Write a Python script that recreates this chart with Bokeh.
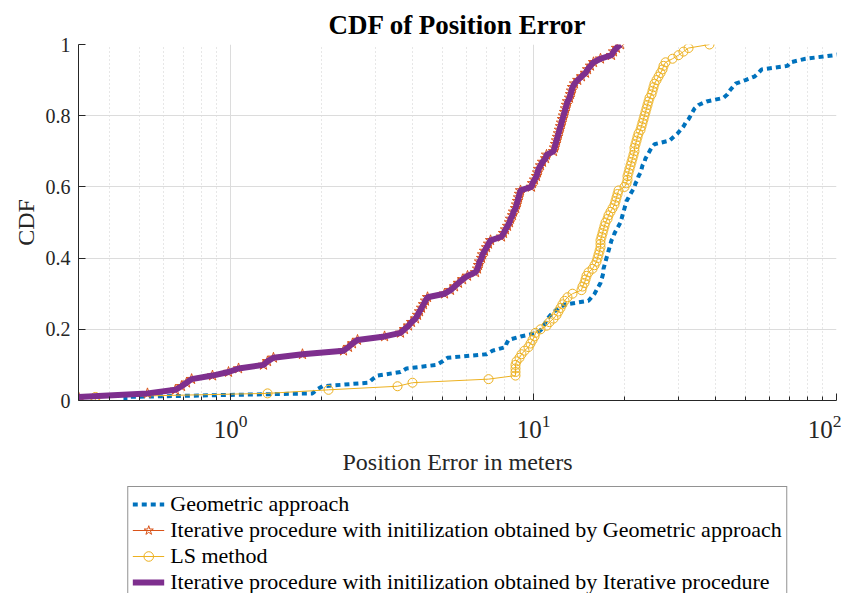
import numpy as np
from bokeh.plotting import figure
from bokeh.layouts import column
from bokeh.models import Range1d, FixedTicker, Legend, LegendItem, LogTickFormatter
from bokeh.embed import file_html
from bokeh.resources import INLINE

# ---- data (sorted position errors in meters, one per CDF step of 0.01) ----
geometric = [0.450, 1.865, 1.922, 2.012, 2.854, 2.942, 3.056, 3.640, 3.809, 4.786,
             5.009, 5.203, 6.999, 7.325, 8.084, 8.146, 8.271, 9.060, 10.31, 10.63,
             10.79, 10.96, 11.12, 11.38, 11.73, 12.09, 12.75, 15.19, 15.54, 15.90,
             16.14, 16.39, 16.64, 16.77, 16.90, 17.02, 17.02, 17.15, 17.28, 17.41,
             17.55, 17.68, 17.82, 17.95, 18.09, 18.37, 18.51, 18.79, 19.08, 19.37,
             19.52, 19.66, 19.82, 19.97, 20.12, 20.28, 20.59, 20.90, 21.22, 21.54,
             21.71, 22.04, 22.21, 22.55, 22.72, 22.89, 23.24, 23.42, 23.78, 24.15,
             24.52, 25.08, 28.11, 28.97, 29.87, 30.56, 31.26, 31.75, 32.48, 32.98,
             33.48, 34.00, 35.05, 37.24, 42.38, 43.69, 44.37, 45.38, 46.42, 50.08,
             53.63, 55.28, 56.56, 68.91, 70.50, 79.02, 98.49, 111.2, 129.5, 162.6]

iterative = [0.315, 0.532, 0.658, 0.689, 0.716, 0.744, 0.872, 0.985, 1.063, 1.285,
             1.325, 1.386, 1.728, 2.360, 2.452, 2.527, 2.625, 3.224, 3.640, 3.752,
             3.868, 3.957, 4.080, 4.143, 4.206, 4.271, 4.335, 4.402, 4.469, 5.086,
             5.323, 5.488, 5.657, 5.832, 6.058, 6.437, 6.536, 6.586, 6.636, 6.738,
             6.789, 6.893, 6.999, 7.106, 7.215, 7.843, 7.962, 8.084, 8.208, 8.334,
             8.397, 8.526, 8.590, 8.722, 8.789, 8.856, 8.923, 8.991, 9.060, 9.849,
             9.924, 10.08, 10.23, 10.31, 10.39, 10.55, 10.71, 10.96, 11.04, 11.64,
             11.73, 11.82, 11.91, 12.00, 12.09, 12.18, 12.28, 12.37, 12.46, 12.56,
             12.66, 12.75, 12.85, 12.95, 13.15, 13.25, 13.35, 13.45, 13.66, 14.00,
             14.40, 14.85, 15.08, 15.42, 15.78, 16.64, 18.09, 18.37, 18.79, 19.37]

ls_method = [0.358, 1.325, 2.106, 3.558, 3.987, 7.106, 8.722, 8.722, 8.722, 8.722,
             8.789, 8.991, 9.130, 9.340, 9.627, 9.775, 9.924, 10.08, 10.15, 10.55,
             11.04, 11.29, 11.64, 11.91, 12.09, 12.28, 12.46, 12.66, 12.95, 13.45,
             14.40, 14.51, 14.73, 14.85, 14.96, 15.19, 15.66, 15.90, 16.14, 16.27,
             16.39, 16.52, 16.64, 16.64, 16.64, 16.77, 16.90, 17.02, 17.15, 17.28,
             17.55, 17.68, 17.95, 18.23, 18.51, 18.65, 18.79, 18.94, 19.08, 19.97,
             20.28, 20.43, 20.43, 20.59, 20.74, 20.90, 21.06, 21.22, 21.38, 21.54,
             21.54, 21.71, 21.88, 22.04, 22.21, 22.55, 22.72, 22.89, 23.07, 23.24,
             23.42, 23.60, 23.78, 23.96, 24.15, 24.52, 24.71, 24.89, 25.08, 25.47,
             25.86, 26.26, 26.66, 26.86, 27.28, 28.76, 30.10, 31.26, 32.48, 38.09]

labels = ["Geometric approach",
          "Iterative procedure with initilization obtained by Geometric approach",
          "LS method",
          "Iterative procedure with initilization obtained by Iterative procedure"]

x_major = [0.1, 1, 10, 100]
x_minor = [0.2, 0.3, 0.4, 0.5, 0.6, 0.7, 0.8, 0.9, 2, 3, 4, 5, 6, 7, 8, 9,
           20, 30, 40, 50, 60, 70, 80, 90]
y_major = [0, 0.2, 0.4, 0.6, 0.8, 1]


def ecdf(vals):
    xs = np.sort(np.asarray(vals, dtype=float))
    n = len(xs)
    f = np.arange(1, n + 1) / n
    return np.concatenate([[xs[0]], xs]), np.concatenate([[0.0], f])


BLUE, RED, ORANGE, PURPLE = "#0072BD", "#D95319", "#EDB120", "#7E2F8E"
SERIF = "Liberation Serif"
AX = "#262626"

STYLES = [
    dict(line=dict(line_color=BLUE, line_width=4, line_dash="5 4"), marker=None),
    dict(line=dict(line_color=RED, line_width=1),
         marker=dict(marker="star", size=11, line_color=RED, fill_color=None, line_width=1)),
    dict(line=dict(line_color=ORANGE, line_width=1),
         marker=dict(marker="circle", size=9, line_color=ORANGE, fill_color=None, line_width=1)),
    dict(line=dict(line_color=PURPLE, line_width=6), marker=None),
]

p = figure(width=841, height=486, x_axis_type="log",
           x_range=Range1d(0.315, 100), y_range=Range1d(0, 1),
           output_backend="svg", toolbar_location=None,
           min_border_left=78, min_border_right=5, min_border_top=44,
           min_border_bottom=86, title="CDF of Position Error")
p.background_fill_color = "white"
p.outline_line_color = None

p.title.align = "center"
p.title.text_font = SERIF
p.title.text_font_size = "27px"
p.title.text_font_style = "bold"
p.title.text_color = "black"

series = [ecdf(geometric), ecdf(iterative), ecdf(ls_method), ecdf(iterative)]
for (xs, ys), st in zip(series, STYLES):
    p.line(xs, ys, **st["line"])
    if st["marker"]:
        p.scatter(xs, ys, **st["marker"])

# axes
xa = p.xaxis[0]
xa.ticker = FixedTicker(ticks=x_major, minor_ticks=x_minor)
xa.formatter = LogTickFormatter()
ya = p.yaxis[0]
ya.ticker = FixedTicker(ticks=y_major)
for ax in (xa, ya):
    ax.axis_line_color = AX
    ax.major_tick_line_color = AX
    ax.minor_tick_line_color = AX
    ax.major_tick_in = 7
    ax.major_tick_out = 0
    ax.minor_tick_in = 4
    ax.minor_tick_out = 0
    ax.major_label_text_font = SERIF
    ax.major_label_text_font_size = "20px"
    ax.major_label_text_color = AX
    ax.axis_label_text_font = SERIF
    ax.axis_label_text_font_size = "24px"
    ax.axis_label_text_font_style = "normal"
    ax.axis_label_text_color = AX
xa.major_label_text_font_size = "25px"
ya.minor_tick_in = 0
xa.axis_label = "Position Error in meters"
ya.axis_label = "CDF"
xa.major_label_standoff = 14
ya.major_label_standoff = 8
xa.axis_label_standoff = 8
ya.axis_label_standoff = 4

# grids
p.xgrid.grid_line_color = "#dcdcdc"
p.xgrid.minor_grid_line_color = "#cfcfcf"
p.xgrid.minor_grid_line_dash = "1 3"
p.ygrid.grid_line_color = "#dcdcdc"

# ---- legend panel underneath: same series, kept out of its (empty) view ----
lf = figure(width=841, height=107, x_range=Range1d(1000, 1001), y_range=Range1d(0, 1),
            output_backend="svg", toolbar_location=None,
            x_axis_location=None, y_axis_location=None,
            min_border_left=78, min_border_right=5, min_border_top=0,
            min_border_bottom=0)
lf.outline_line_color = None
lf.grid.visible = False
items = []
for lab, (xs, ys), st in zip(labels, series, STYLES):
    rs = [lf.line(xs, ys, **st["line"])]
    if st["marker"]:
        rs.append(lf.scatter(xs, ys, **st["marker"]))
    items.append(LegendItem(label=lab, renderers=rs))

legend = Legend(items=items, location="top")
legend.label_text_font = SERIF
legend.label_text_font_size = "22px"
legend.label_text_color = "black"
legend.glyph_width = 32
legend.glyph_height = 24
legend.label_height = 24
legend.spacing = 0
legend.padding = 4
legend.margin = 0
legend.label_standoff = 6
legend.border_line_color = AX
legend.border_line_width = 1
legend.background_fill_color = "white"
legend.background_fill_alpha = 1
lf.add_layout(legend)

open("out.html", "w").write(file_html(column(p, lf, spacing=0), INLINE))
